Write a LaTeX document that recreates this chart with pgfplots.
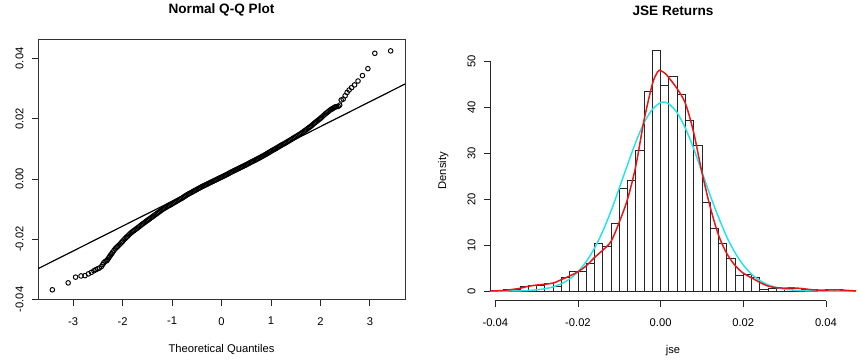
\documentclass[border=0pt]{standalone}
\usepackage{fontspec}
\setmainfont{Liberation Sans}
\usepackage{pgfplots}
\usepackage{pgfplotstable}
\pgfplotsset{compat=1.18}

\definecolor{densred}{RGB}{232,22,26}
\definecolor{normcyan}{RGB}{40,228,232}

\newcommand{\lblfont}{\fontsize{11.2bp}{13bp}\selectfont}
\newcommand{\ttlfont}{\fontsize{13.6bp}{16bp}\selectfont\bfseries}

% sample quantiles against theoretical normal quantiles
\pgfplotstableread{
x y
-3.42 -0.0368
-3.10 -0.0345
-2.95 -0.0326
-2.84 -0.0322
-2.76 -0.0321
-2.69 -0.0315
-2.63 -0.0310
-2.58 -0.0305
-2.54 -0.0301
-2.50 -0.0298
-2.47 -0.0296
-2.43 -0.0291
-2.40 -0.0284
-2.38 -0.0278
-2.35 -0.0274
-2.32 -0.0271
-2.30 -0.0267
-2.28 -0.0262
-2.26 -0.0257
-2.24 -0.0252
-2.22 -0.0248
-2.200 -0.02430
-2.175 -0.02375
-2.150 -0.02320
-2.125 -0.02280
-2.100 -0.02240
-2.075 -0.02200
-2.050 -0.02160
-2.025 -0.02115
-2.000 -0.02070
-1.975 -0.02025
-1.950 -0.01980
-1.925 -0.01940
-1.900 -0.01900
-1.875 -0.01860
-1.850 -0.01820
-1.825 -0.01785
-1.800 -0.01750
-1.775 -0.01720
-1.750 -0.01690
-1.725 -0.01660
-1.700 -0.01630
-1.675 -0.01597
-1.650 -0.01565
-1.625 -0.01532
-1.600 -0.01500
-1.575 -0.01470
-1.550 -0.01440
-1.525 -0.01410
-1.500 -0.01380
-1.475 -0.01350
-1.450 -0.01320
-1.425 -0.01290
-1.400 -0.01260
-1.375 -0.01230
-1.350 -0.01200
-1.325 -0.01170
-1.300 -0.01140
-1.275 -0.01110
-1.250 -0.01080
-1.225 -0.01050
-1.200 -0.01020
-1.175 -0.00995
-1.150 -0.00970
-1.125 -0.00945
-1.100 -0.00920
-1.075 -0.00897
-1.050 -0.00875
-1.025 -0.00852
-1.000 -0.00830
-0.975 -0.00805
-0.950 -0.00780
-0.925 -0.00755
-0.900 -0.00730
-0.875 -0.00707
-0.850 -0.00685
-0.825 -0.00662
-0.800 -0.00640
-0.775 -0.00612
-0.750 -0.00585
-0.725 -0.00557
-0.700 -0.00530
-0.675 -0.00507
-0.650 -0.00485
-0.625 -0.00462
-0.600 -0.00440
-0.575 -0.00417
-0.550 -0.00395
-0.525 -0.00372
-0.500 -0.00350
-0.475 -0.00327
-0.450 -0.00305
-0.425 -0.00282
-0.400 -0.00260
-0.375 -0.00240
-0.350 -0.00220
-0.325 -0.00200
-0.300 -0.00180
-0.275 -0.00160
-0.250 -0.00140
-0.225 -0.00120
-0.200 -0.00100
-0.175 -0.00080
-0.150 -0.00060
-0.125 -0.00040
-0.100 -0.00020
-0.075 0.00000
-0.050 0.00020
-0.025 0.00040
0.000 0.00060
0.025 0.00080
0.050 0.00100
0.075 0.00120
0.100 0.00140
0.125 0.00162
0.150 0.00185
0.175 0.00207
0.200 0.00230
0.225 0.00250
0.250 0.00270
0.275 0.00290
0.300 0.00310
0.325 0.00330
0.350 0.00350
0.375 0.00370
0.400 0.00390
0.425 0.00410
0.450 0.00430
0.475 0.00450
0.500 0.00470
0.525 0.00492
0.550 0.00515
0.575 0.00537
0.600 0.00560
0.625 0.00580
0.650 0.00600
0.675 0.00620
0.700 0.00640
0.725 0.00662
0.750 0.00685
0.775 0.00707
0.800 0.00730
0.825 0.00752
0.850 0.00775
0.875 0.00797
0.900 0.00820
0.925 0.00845
0.950 0.00870
0.975 0.00895
1.000 0.00920
1.025 0.00942
1.050 0.00965
1.075 0.00987
1.100 0.01010
1.125 0.01035
1.150 0.01060
1.175 0.01085
1.200 0.01110
1.225 0.01132
1.250 0.01155
1.275 0.01177
1.300 0.01200
1.325 0.01225
1.350 0.01250
1.375 0.01275
1.400 0.01300
1.425 0.01325
1.450 0.01350
1.475 0.01375
1.500 0.01400
1.525 0.01425
1.550 0.01450
1.575 0.01475
1.600 0.01500
1.625 0.01530
1.650 0.01560
1.675 0.01590
1.700 0.01620
1.725 0.01650
1.750 0.01680
1.775 0.01710
1.800 0.01740
1.825 0.01775
1.850 0.01810
1.875 0.01845
1.900 0.01880
1.925 0.01912
1.950 0.01945
1.975 0.01977
2.000 0.02010
2.025 0.02047
2.050 0.02085
2.075 0.02122
2.100 0.02160
2.125 0.02192
2.150 0.02225
2.175 0.02257
2.200 0.02290
2.22 0.0231
2.24 0.0233
2.26 0.0235
2.28 0.0237
2.30 0.0239
2.33 0.0240
2.36 0.0241
2.39 0.0245
2.42 0.0262
2.46 0.0265
2.50 0.0276
2.54 0.0287
2.58 0.0295
2.63 0.0303
2.69 0.0312
2.76 0.0325
2.85 0.0343
2.96 0.0366
3.10 0.0417
3.42 0.0425
}\qqdata

% histogram densities, left bin edges (width 0.002)
\pgfplotstableread{
x d
-0.038 0.333
-0.036 0.333
-0.034 1.000
-0.032 1.333
-0.030 1.333
-0.028 1.667
-0.026 1.000
-0.024 3.000
-0.022 4.333
-0.020 4.333
-0.018 6.000
-0.016 10.333
-0.014 9.667
-0.012 14.667
-0.010 22.333
-0.008 24.000
-0.006 30.667
-0.004 43.333
-0.002 52.333
0.000 44.667
0.002 46.667
0.004 42.667
0.006 37.000
0.008 31.667
0.010 19.333
0.012 13.667
0.014 10.333
0.016 7.000
0.018 3.333
0.020 3.667
0.022 3.000
0.024 0.333
0.026 0.667
0.028 0.667
0.030 0.667
0.032 0.667
0.034 0.333
0.036 0.333
0.038 0.000
0.040 0.333
0.042 0.333
0.044 0.000
}\histdata

% fitted normal density
\pgfplotstableread{
x d
-0.0413 0.003
-0.040 0.006
-0.038 0.015
-0.036 0.032
-0.034 0.068
-0.032 0.14
-0.030 0.27
-0.028 0.52
-0.026 0.93
-0.024 1.61
-0.022 2.66
-0.020 4.22
-0.018 6.42
-0.016 9.33
-0.014 13.0
-0.012 17.4
-0.010 22.4
-0.008 27.5
-0.006 32.4
-0.004 36.6
-0.002 39.5
0.000 41.0
0.0007 41.1
0.002 40.7
0.004 38.8
0.006 35.4
0.008 31.0
0.010 25.9
0.012 20.8
0.014 16.1
0.016 11.8
0.018 8.37
0.020 5.67
0.022 3.69
0.024 2.30
0.026 1.37
0.028 0.78
0.030 0.43
0.032 0.23
0.034 0.11
0.036 0.055
0.038 0.025
0.040 0.011
0.042 0.005
0.044 0.002
0.0473 0.0005
}\normdata

% kernel density estimate
\pgfplotstableread{
x d
-0.0413 0.03
-0.040 0.06
-0.038 0.15
-0.036 0.35
-0.034 0.62
-0.032 1.05
-0.030 1.32
-0.028 1.50
-0.026 1.75
-0.024 2.50
-0.022 3.30
-0.020 4.20
-0.018 5.50
-0.016 7.30
-0.014 8.90
-0.012 10.8
-0.010 15.0
-0.008 20.0
-0.006 27.2
-0.004 37.2
-0.002 45.0
-0.001 47.2
-0.0003 48.0
0.001 47.4
0.002 46.4
0.004 44.0
0.006 40.8
0.008 34.5
0.010 25.8
0.012 18.3
0.014 12.2
0.016 8.2
0.018 5.6
0.020 3.9
0.022 2.9
0.024 1.9
0.026 1.1
0.028 0.75
0.030 0.66
0.032 0.70
0.034 0.58
0.036 0.36
0.038 0.22
0.040 0.22
0.042 0.28
0.044 0.22
0.0473 0.03
}\kdedata

\pgfplotsset{
  rpanel/.style={
    scale only axis,
    anchor=south west,
    tick align=outside,
    tick pos=left,
    major tick length=6bp,
    every tick/.style={black!85, line width=0.8bp},
    tick label style={font=\lblfont},
    label style={font=\lblfont},
    scaled ticks=false,
    xticklabel shift=8bp,
    yticklabel shift=5bp,
    yticklabel style={rotate=90, anchor=south},
    title style={font=\ttlfont, at={(axis description cs:0.5,1.093)}, anchor=center},
    xlabel style={at={(axis description cs:0.5,-0.192)}, anchor=center},
  }
}

\begin{document}
\begin{tikzpicture}
\path (0,0) rectangle (859bp,356bp);

\begin{axis}[rpanel,
  at={(38bp,58bp)}, width=367bp, height=260bp,
  xmin=-3.71, xmax=3.71, ymin=-0.0401, ymax=0.0462,
  axis line style={black!80, line width=0.9bp},
  xtick={-3,-2,-1,0,1,2,3},
  xticklabels={-3,-2,-1,0,1,2,3},
  ytick={-0.04,-0.02,0,0.02,0.04},
  yticklabels={-0.04,-0.02,0.00,0.02,0.04},
  title={Normal Q-Q Plot},
  xlabel={Theoretical Quantiles},
]
\addplot[only marks, mark=o, mark size=2.3bp,
  mark options={black, line width=0.95bp}] table[x=x, y=y] {\qqdata};
\addplot[black, line width=1.2bp] coordinates {(-3.71,-0.0298) (3.71,0.0315)};
\end{axis}

\begin{axis}[rpanel,
  at={(490bp,57bp)}, width=366bp, height=260bp,
  xmin=-0.04128, xmax=0.04728, ymin=-2.093, ymax=54.43,
  clip=false,
  axis line style={draw=none},
  xtick={-0.04,-0.02,0,0.02,0.04},
  xticklabels={-0.04,-0.02,0.00,0.02,0.04},
  ytick={0,10,20,30,40,50},
  yticklabels={0,10,20,30,40,50},
  title={JSE Returns},
  xlabel={jse},
  ylabel={Density},
  ylabel style={at={(axis description cs:-0.128,0.5)}, anchor=center},
]
\addplot[ybar interval, fill=white, draw=black!85, line width=0.85bp]
  table[x=x, y=d] {\histdata};
\addplot[normcyan, line width=1.5bp, smooth] table[x=x, y=d] {\normdata};
\addplot[densred, line width=1.5bp, smooth] table[x=x, y=d] {\kdedata};
\draw[black!85, line width=0.8bp] (axis cs:-0.04,-2.093) -- (axis cs:0.04,-2.093);
\draw[black!85, line width=0.8bp] (axis cs:-0.04128,0) -- (axis cs:-0.04128,50);
\end{axis}
\end{tikzpicture}
\end{document}
